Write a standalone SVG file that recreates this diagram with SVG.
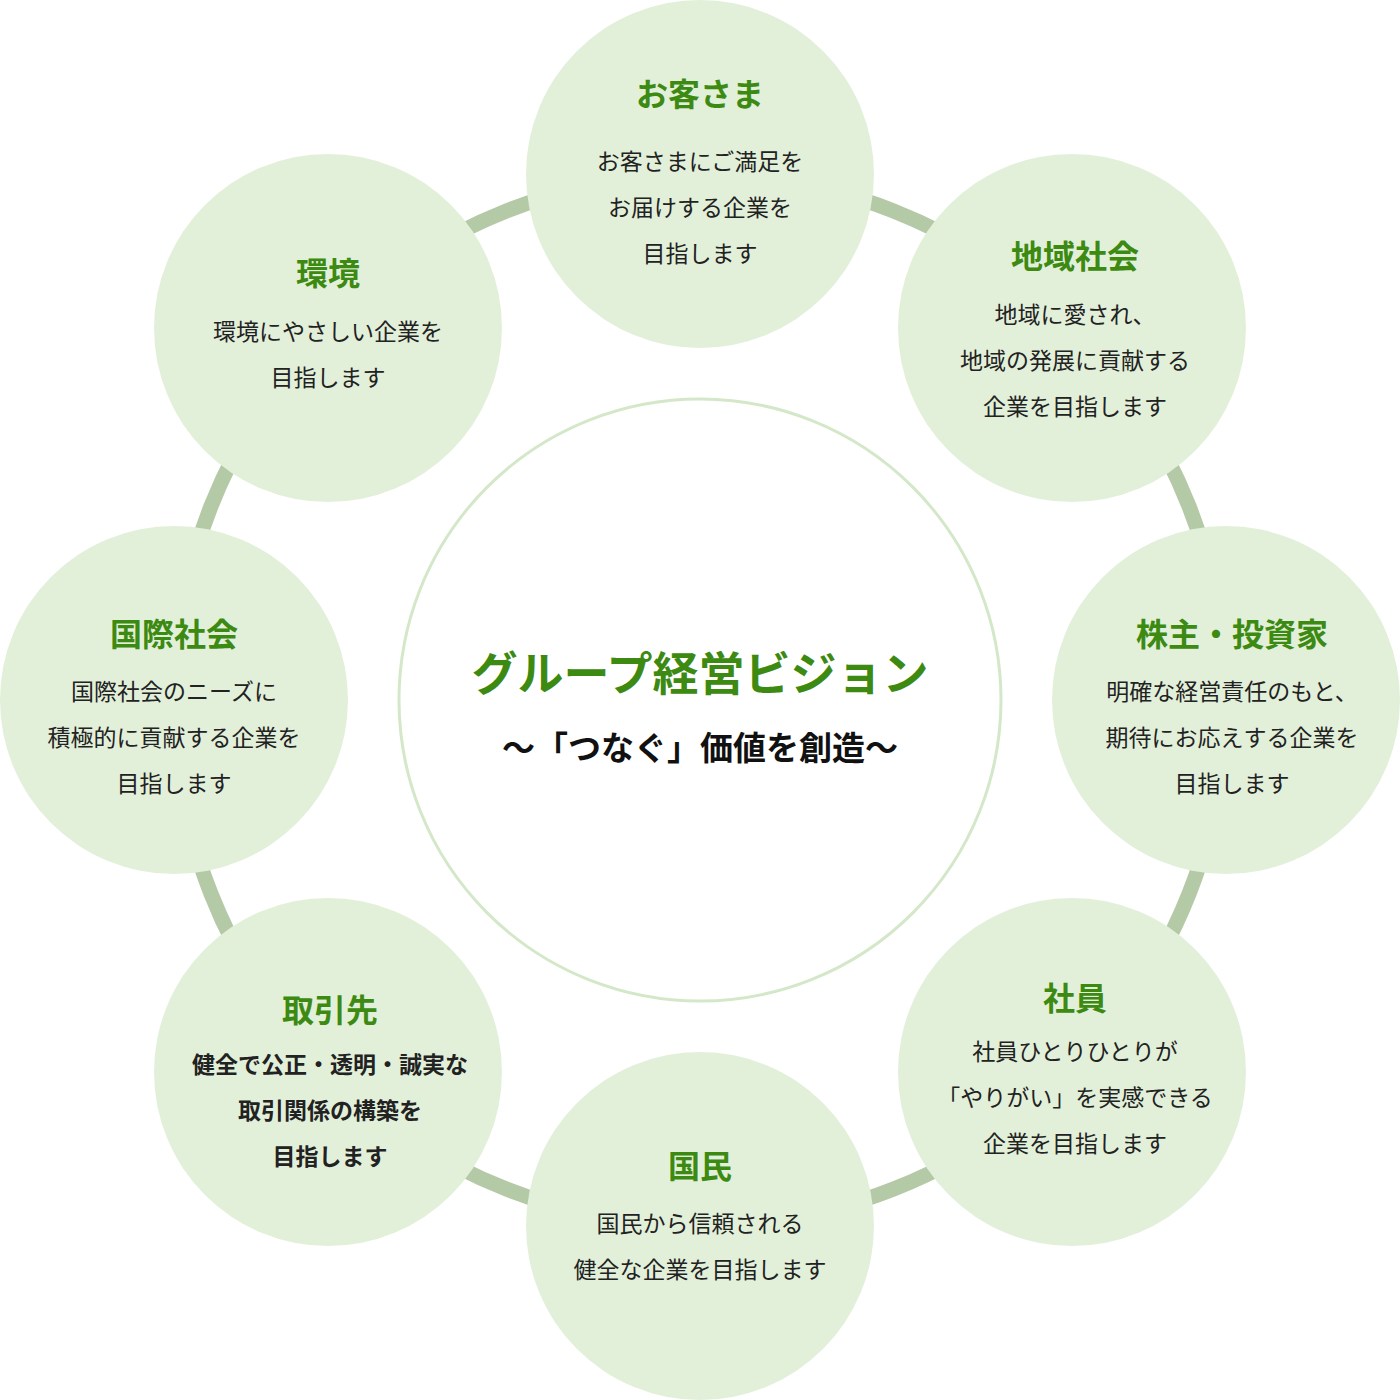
<svg xmlns="http://www.w3.org/2000/svg" width="1400" height="1400" viewBox="0 0 1400 1400">
<style>
.n{fill:#e2f0da}
.t{font-family:"Noto Sans CJK JP",sans-serif;font-size:32px;font-weight:bold;fill:#3d8a12;text-anchor:middle}
.b{font-family:"Noto Sans CJK JP",sans-serif;font-size:23px;fill:#222;text-anchor:middle}
.bb{font-weight:bold}
</style>
<rect width="1400" height="1400" fill="#fff"/>
<g id="connectors"><circle cx="700" cy="700" r="526" fill="none" stroke="#b4c9a6" stroke-width="15"/></g>
<g id="center"><circle cx="700" cy="700" r="301" fill="#fff" stroke="#d4e8c9" stroke-width="3"/>
<text x="700" y="690" style="font-family:'Noto Sans CJK JP',sans-serif;font-size:46px;font-weight:bold;fill:#3d8a12;text-anchor:middle">グループ経営ビジョン</text>
<text x="700" y="760" style="font-family:'Noto Sans CJK JP',sans-serif;font-size:33px;font-weight:bold;fill:#111;text-anchor:middle">～「つなぐ」価値を創造～</text></g>
<g id="n1"><circle class="n" cx="700" cy="174" r="174"/><text class="t" x="700" y="106">お客さま</text><text class="b" x="700" y="170">お客さまにご満足を</text><text class="b" x="700" y="216">お届けする企業を</text><text class="b" x="700" y="262">目指します</text></g>
<g id="n2"><circle class="n" cx="1072" cy="328" r="174"/><text class="t" x="1075" y="268">地域社会</text><text class="b" x="1075" y="323">地域に愛され、</text><text class="b" x="1075" y="369">地域の発展に貢献する</text><text class="b" x="1075" y="415">企業を目指します</text></g>
<g id="n3"><circle class="n" cx="1226" cy="700" r="174"/><text class="t" x="1232" y="646">株主・投資家</text><text class="b" x="1232" y="700">明確な経営責任のもと、</text><text class="b" x="1232" y="746">期待にお応えする企業を</text><text class="b" x="1232" y="792">目指します</text></g>
<g id="n4"><circle class="n" cx="1072" cy="1072" r="174"/><text class="t" x="1075" y="1010">社員</text><text class="b" x="1075" y="1060">社員ひとりひとりが</text><text class="b" x="1075" y="1106">「やりがい」を実感できる</text><text class="b" x="1075" y="1152">企業を目指します</text></g>
<g id="n5"><circle class="n" cx="700" cy="1226" r="174"/><text class="t" x="700" y="1178">国民</text><text class="b" x="700" y="1232">国民から信頼される</text><text class="b" x="700" y="1278">健全な企業を目指します</text></g>
<g id="n6"><circle class="n" cx="328" cy="1072" r="174"/><text class="t" x="330" y="1022">取引先</text><text class="b bb" x="330" y="1073">健全で公正・透明・誠実な</text><text class="b bb" x="330" y="1119">取引関係の構築を</text><text class="b bb" x="330" y="1165">目指します</text></g>
<g id="n7"><circle class="n" cx="174" cy="700" r="174"/><text class="t" x="174" y="646">国際社会</text><text class="b" x="174" y="700">国際社会のニーズに</text><text class="b" x="174" y="746">積極的に貢献する企業を</text><text class="b" x="174" y="792">目指します</text></g>
<g id="n8"><circle class="n" cx="328" cy="328" r="174"/><text class="t" x="328" y="285">環境</text><text class="b" x="328" y="340">環境にやさしい企業を</text><text class="b" x="328" y="386">目指します</text></g>
</svg>
